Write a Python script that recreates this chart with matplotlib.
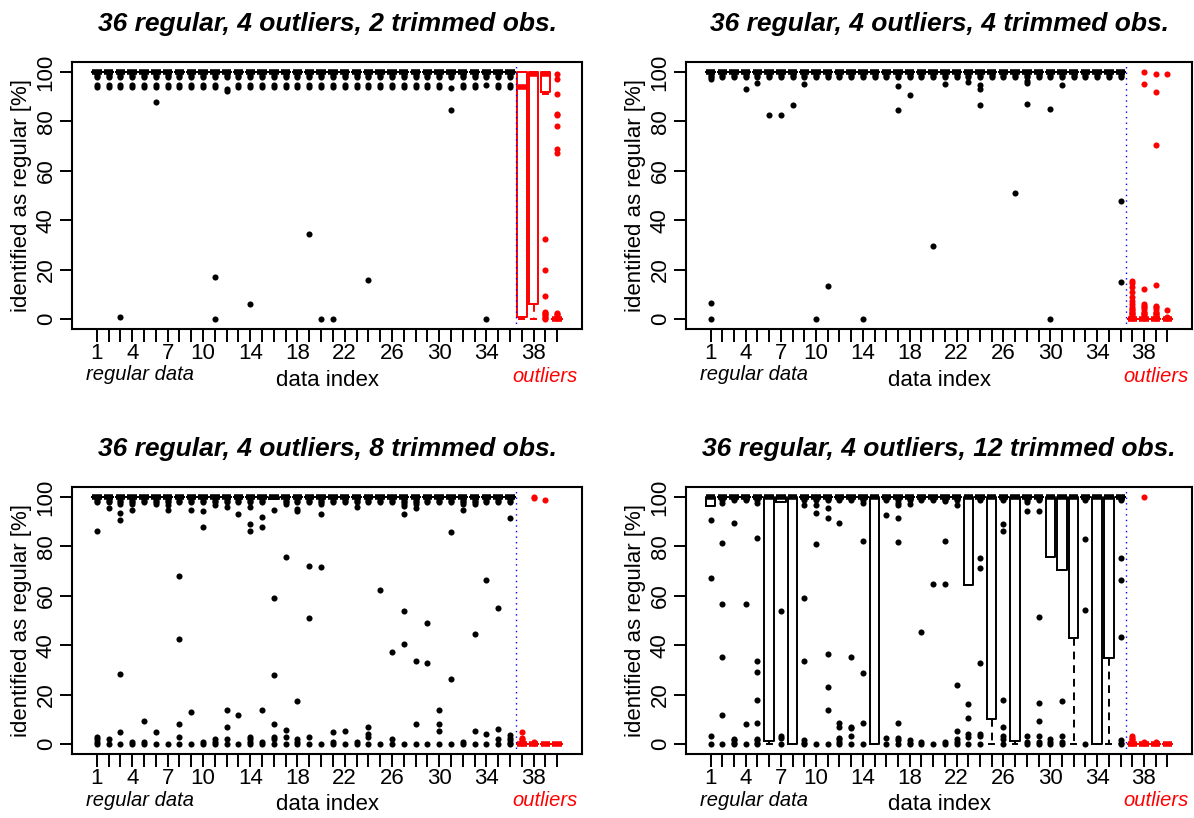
import matplotlib.pyplot as plt
from matplotlib.transforms import blended_transform_factory

plt.rcParams['font.family'] = ['Liberation Sans', 'DejaVu Sans']

# ---------------- data ----------------
n_regular = 36
n_outliers = 4
trimmed = [2, 4, 8, 12]
tick_shown = [1, 4, 7, 10, 14, 18, 22, 26, 30, 34, 38]

# dense dots just under 100 that give the "T" shapes
top_dots = [99.5, 99.0, 98.5, 98.0]
top_dots_t12 = [99.6, 99.2, 98.8]
row94 = [94.6, 93.8]

# boxes that are not collapsed: idx -> (q1, median, q3, lower whisker)
boxes_t2 = {37: (1, 94, 100, 0), 38: (6, 99, 100, 0), 39: (92, 99.3, 100, 91)}
boxes_t4 = {}
boxes_t8 = {16: (99.2, 100, 100, 99.2)}
boxes_t12 = {1: (96.4, 100, 100, 96.4), 6: (1.1, 100, 100, 0), 7: (97.8, 100, 100, 97.8),
             8: (0, 100, 100, 0), 15: (0, 100, 100, 0), 23: (64.4, 100, 100, 64.4),
             25: (10, 100, 100, 0), 27: (1.1, 100, 100, 0), 30: (75.5, 100, 100, 75.5),
             31: (70.6, 100, 100, 70.6), 32: (43.1, 100, 100, 0), 34: (0, 100, 100, 0),
             35: (34.9, 100, 100, 0)}

# extra outlying points per index
extra_t2 = {3: [1], 6: [88], 11: [17, 0], 14: [6], 19: [34.5], 20: [0], 21: [0],
            24: [16], 31: [84.5], 34: [0],
            39: [32.5, 20, 9.5, 3, 2.5, 2, 1.5, 1, 0.5, 0],
            40: [99, 97, 91, 83, 82.5, 78, 69, 67, 2.5, 2, 1.5, 1, 0.5]}
row_t2 = {12: [93.2, 92.4], 31: [93.5], 34: [94.6]}

extra_t4 = {1: [97, 6.5, 0], 4: [93], 5: [95.5], 6: [82.5], 7: [82.5], 8: [86.7], 9: [95],
            10: [0], 11: [13.3], 14: [0], 17: [94.2, 84.7], 18: [90.7], 20: [29.4],
            21: [95.2], 23: [95.8], 24: [94.8, 92.9, 86.8], 27: [51.1],
            28: [96.5, 95.5, 86.9], 30: [84.8, 0], 31: [94.7], 36: [47.7, 15.2],
            37: [15.5, 14.5, 13, 11, 9, 7.5, 6, 5, 4, 3.5, 3, 2.5, 2, 1.5, 1, 0.5],
            38: [100, 95, 12, 6, 5.5, 5, 4, 3, 2.5, 2, 1.5, 1, 0.5],
            39: [99, 92, 70.5, 14, 5.5, 5, 4, 3, 2.5, 2, 1.5, 1, 0.5],
            40: [99, 3.5, 1, 0.5]}

extra_t8 = {1: [86.2, 3, 2, 1, 0], 2: [95.7, 2, 0], 3: [97, 93.4, 90.8, 28.3, 5.1, 0],
            4: [97, 94.7, 1, 0], 5: [9.2, 1, 0], 6: [97.2, 5.1, 0], 7: [96.8, 94.6, 0],
            8: [67.8, 42.6, 8, 3, 0], 9: [94.8, 12.8, 0], 10: [94.1, 88, 1, 0],
            11: [96.8, 2, 1, 0], 12: [95.8, 13.7, 6.9, 2, 0], 13: [92.9, 11.6, 0],
            14: [95.8, 89.2, 86.4, 3, 2, 1, 0], 15: [91.8, 88, 14, 1, 0],
            16: [94.6, 59.2, 27.9, 8, 3, 2, 0], 17: [97, 75.7, 5.7, 3, 0],
            18: [95.1, 94.3, 17.4, 2, 1, 0], 19: [72, 50.9, 3, 0], 20: [97, 92.9, 71.6, 0],
            21: [5.1, 1, 0], 22: [5.3, 0], 23: [95.8, 1, 0], 24: [6.9, 4, 3, 0],
            25: [62.4, 0], 26: [37.3, 2, 0], 27: [97, 96.3, 92.9, 54, 40.6, 0],
            28: [97, 95.5, 33.6, 8, 0], 29: [48.8, 32.9, 0], 30: [13.9, 8.2, 5.3, 0],
            31: [85.6, 26.3, 0], 32: [97, 94.8, 1, 0], 33: [97, 44.5, 5.3, 0],
            34: [66.2, 3.9, 0], 35: [55.1, 6.3, 2, 0], 36: [91.6, 3.5, 2.5, 1.5, 0.5, 0],
            37: [5.1, 2.5, 2, 1.5, 1, 0.5], 38: [100, 99.5, 1, 0.5], 39: [98.6]}

extra_t12 = {1: [90.6, 67, 3.2, 0], 2: [97.5, 81.5, 56.6, 35.3, 11.9, 0],
             3: [89.6, 2, 1.5, 0.5, 0], 4: [56.6, 8.1, 0],
             5: [97.5, 83.3, 33.6, 29.1, 17.8, 8.4, 2, 1.5, 0.5, 0], 7: [53.9, 3.2, 2.5, 0],
             9: [96.6, 59.3, 33.6, 1.5, 0.5, 0], 10: [96.6, 93.3, 80.9, 0],
             11: [95.6, 91.4, 36.3, 23.3, 13.7, 0], 12: [89.6, 8.4, 7, 2.5, 2, 1, 0],
             13: [35.3, 7, 6.4, 3.2, 0], 14: [97.5, 82.3, 28.6, 8.4, 0], 16: [92.7, 2.5, 0],
             17: [97.4, 96.7, 91.6, 81.8, 8.4, 2.5, 1.5, 0], 18: [97, 1.5, 0.5, 0],
             19: [45.4, 1, 0], 20: [64.6, 0], 21: [98.5, 82.3, 64.7, 1, 0],
             22: [96.8, 24.1, 5.4, 2, 1, 0], 23: [16.4, 10.4, 4, 3, 0],
             24: [75.2, 71.2, 32.7, 4, 3.3, 0], 26: [89.2, 86.3, 17.9, 7, 3.3, 2, 0],
             28: [98, 94.3, 3.3, 1, 0], 29: [94.3, 51.3, 16.8, 9.3, 3.3, 1, 0],
             30: [2, 1, 0], 31: [17.4, 3.3, 1, 0], 33: [83, 54.4, 0],
             36: [75.3, 66.3, 43.3, 1.5, 0.5, 0],
             37: [3.2, 2.5, 2, 1.5, 1, 0.5], 38: [100, 1, 0.5], 39: [1, 0.5]}


def build_stats(boxes, extra, tops, rows=None, default_row=None):
    stats = []
    for i in range(1, n_regular + n_outliers + 1):
        regular = i <= n_regular
        if i in boxes:
            q1, med, q3, wlo = boxes[i]
            fl = []
        elif regular:
            q1 = med = q3 = wlo = 100
            fl = list(tops)
            if default_row is not None:
                fl += rows.get(i, default_row)
        else:
            q1 = med = q3 = wlo = 0
            fl = []
        whi = q3
        fl = fl + extra.get(i, [])
        stats.append(dict(q1=q1, med=med, q3=q3, whislo=wlo, whishi=whi, fliers=fl))
    return stats


panels = [
    (trimmed[0], build_stats(boxes_t2, extra_t2, top_dots, row_t2, row94)),
    (trimmed[1], build_stats(boxes_t4, extra_t4, top_dots)),
    (trimmed[2], build_stats(boxes_t8, extra_t8, top_dots)),
    (trimmed[3], build_stats(boxes_t12, extra_t12, top_dots_t12)),
]

W, H = 1194, 818
fig = plt.figure(figsize=(W / 100, H / 100), dpi=100)

# axes boxes in pixels: left, right, top, bottom
frames = [(72, 582, 62, 329), (686, 1192, 62, 329),
          (72, 582, 487, 754), (686, 1192, 487, 754)]


def draw_boxes(ax, stats, pos, color):
    ax.bxp(stats, positions=pos, widths=0.8, capwidths=0.4, manage_ticks=False,
           boxprops=dict(color=color, linewidth=1.4),
           whiskerprops=dict(color=color, linewidth=1.4, linestyle=(0, (4, 3))),
           capprops=dict(color=color, linewidth=1.4),
           medianprops=dict(color=color, linewidth=4, solid_capstyle='butt'),
           flierprops=dict(marker='o', markerfacecolor=color, markeredgecolor=color,
                           markersize=4.4, markeredgewidth=0, linestyle='none'))


for (ntrim, stats), (l, r, t, b) in zip(panels, frames):
    ax = fig.add_axes([l / W, 1 - b / H, (r - l) / W, (b - t) / H])
    idx = list(range(1, n_regular + n_outliers + 1))
    draw_boxes(ax, stats[:n_regular], idx[:n_regular], 'black')
    draw_boxes(ax, stats[n_regular:], idx[n_regular:], 'red')
    ax.axvline(n_regular + 0.5, color='blue', linestyle=(0, (1, 3)), linewidth=1)

    ax.set_xlim(-1.1, 42.1)
    ax.set_ylim(-4, 104)
    ax.set_xticks(idx)
    ax.set_xticklabels([str(i) if i in tick_shown else '' for i in idx], fontsize=16)
    ax.set_yticks([0, 20, 40, 60, 80, 100])
    ax.set_yticklabels(['0', '20', '40', '60', '80', '100'], fontsize=16,
                       rotation=90, va='center')
    ax.tick_params(axis='x', direction='out', length=9, width=1.4, pad=1)
    ax.tick_params(axis='y', direction='out', length=9, width=1.4, pad=2)
    for s in ax.spines.values():
        s.set_linewidth(1.5)

    h = b - t
    ax.set_ylabel('identified as regular [%]', fontsize=16, va='center')
    ax.yaxis.set_label_coords(-(l - 22 - (0 if l < 600 else 614)) / (r - l), 0.5)
    ax.set_xlabel('data index', fontsize=16, va='center')
    ax.xaxis.set_label_coords(0.5, -51 / h)

    tr = blended_transform_factory(ax.transData, ax.transAxes)
    ax.text(4.7, -46 / h, 'regular data', transform=tr, ha='center', va='center',
            fontsize=14.5, style='italic')
    ax.text(39, -47 / h, 'outliers', transform=tr, ha='center', va='center',
            fontsize=14.5, style='italic', color='red')
    ax.text(0.5, 1 + 38 / h, '%d regular, %d outliers, %d trimmed obs.'
            % (n_regular, n_outliers, ntrim), transform=ax.transAxes,
            ha='center', va='center', fontsize=19, weight='bold', style='italic')

fig.savefig('out.png', dpi=100)
